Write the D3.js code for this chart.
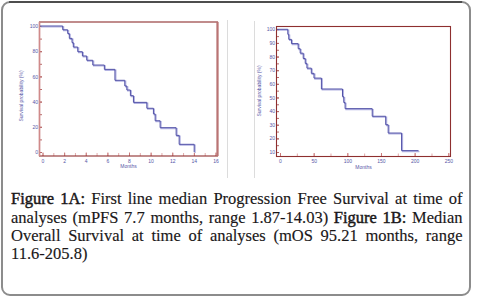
<!DOCTYPE html>
<html>
<head>
<meta charset="utf-8">
<script src="https://cdn.jsdelivr.net/npm/d3@7"></script>
<style>
  body { margin: 0; background: #fff; width: 478px; height: 297px; overflow: hidden; position: relative; }
  svg { position: absolute; left: 0; top: 0; }
  #caption { position: absolute; left: 11px; top: 190.3px; width: 451.5px;
    font-family: "Liberation Serif", "Times New Roman", serif; font-size: 16.5px;
    line-height: 18.3px; color: #1a1718; -webkit-text-stroke: 0.15px #1a1718; }
  #caption .j { text-align: justify; text-align-last: justify; }
  #caption b { font-weight: normal; -webkit-text-stroke: 0.45px #1a1718; }
  .tick text { font-family: "Liberation Sans", Arial, sans-serif; font-size: 5px; fill: #5656a6; }
  .axis-title { font-family: "Liberation Sans", Arial, sans-serif; font-size: 5px; fill: #5656a6; }
</style>
</head>
<body>
<svg id="chart" width="478" height="297"></svg>
<div id="caption"></div>
<script>
// Figure 1A: progression free survival (months, % surviving after each step)
const pfsMonths   = [0, 1.87, 2.33, 2.48, 2.73, 2.85, 3.26, 3.69, 4.09, 4.65, 5.72, 6.7, 7.61, 7.8, 8.13, 8.41, 9.65, 10.26, 10.42, 10.88, 12.36, 12.64, 14.03];
const pfsSurvival = [100, 97, 94, 90.2, 86.8, 83.3, 79.6, 76.2, 72.8, 69, 65.6, 56.9, 52.4, 49.2, 44.7, 39.4, 34.7, 30.2, 24.8, 19.3, 13.2, 6.1, 0];
const pfsXTicks = [0, 2, 4, 6, 8, 10, 12, 14, 16];
const pfsYTicks = [0, 20, 40, 60, 80, 100];

// Figure 1B: overall survival
const osMonths   = [0, 11.6, 13, 17, 27, 30, 34.5, 37.5, 40, 46.5, 50.5, 61.5, 92.8, 94.7, 96.7, 137, 157, 160.7, 180.6];
const osSurvival = [100, 96.3, 92.6, 89.5, 85.8, 82.5, 78.6, 75, 71.5, 67.7, 64.2, 56.2, 50.6, 46.3, 41.8, 36.2, 30, 23.9, 11];
const osLastFollowUp = 205.8;
const osXTicks = [0, 50, 100, 150, 200, 250];
const osYTicks = [10, 20, 30, 40, 50, 60, 70, 80, 90, 100];

const svg = d3.select("#chart");

// page card
svg.append("rect")
  .attr("x", 2).attr("y", 2).attr("width", 468).attr("height", 293).attr("rx", 8)
  .attr("fill", "none").attr("stroke", "#8c8c8c").attr("stroke-width", 2);
svg.append("line")
  .attr("x1", 9).attr("x2", 462).attr("y1", 2).attr("y2", 2)
  .attr("stroke", "#111").attr("stroke-width", 1.2);

// faint image panel edges
svg.append("line").attr("x1", 227.5).attr("x2", 227.5).attr("y1", 20).attr("y2", 178)
  .attr("stroke", "#dcdcdc").attr("stroke-width", 1);
svg.append("line").attr("x1", 254.5).attr("x2", 254.5).attr("y1", 21).attr("y2", 178)
  .attr("stroke", "#dcdcdc").attr("stroke-width", 1);

function kmPath(x, y, months, surv, left, lastTime) {
  const pts = [[left, y(surv[0])]];
  for (let i = 1; i < months.length; i++) {
    pts.push([x(months[i]), y(surv[i - 1])]);
    pts.push([x(months[i]), y(surv[i])]);
  }
  if (lastTime != null) pts.push([x(lastTime), y(surv[surv.length - 1])]);
  return d3.line()(pts);
}

function drawPanel(cfg) {
  const { frame, x, y } = cfg;
  const g = svg.append("g");

  // minor y ticks (inside)
  g.append("g").attr("transform", `translate(${frame.left},0)`)
    .call(d3.axisLeft(y).tickValues(cfg.yMinor).tickFormat("").tickSize(-2.5))
    .call(a => a.select(".domain").remove())
    .call(a => a.selectAll("line").attr("stroke", "#b86a6a"));
  // labelled y ticks
  g.append("g").attr("transform", `translate(${frame.left},0)`)
    .call(d3.axisLeft(y).tickValues(cfg.yTicks).tickSize(-2.5).tickPadding(1.5))
    .call(a => a.select(".domain").remove())
    .call(a => a.selectAll("line").attr("stroke", "#b86a6a"));

  // x ticks (inside, upward)
  g.append("g").attr("transform", `translate(0,${frame.bottom})`)
    .call(d3.axisBottom(x).tickValues(cfg.xMinor).tickFormat("").tickSize(-3))
    .call(a => a.select(".domain").remove())
    .call(a => a.selectAll("line").attr("stroke", "#e0a8a8"));
  g.append("g").attr("transform", `translate(0,${frame.bottom})`)
    .call(d3.axisBottom(x).tickValues(cfg.xTicks).tickSize(-3.5).tickPadding(3))
    .call(a => a.select(".domain").remove())
    .call(a => a.selectAll("line").attr("stroke", "#c97a7a"));

  // frame
  g.append("rect")
    .attr("x", frame.left).attr("y", frame.top)
    .attr("width", frame.right - frame.left).attr("height", frame.bottom - frame.top)
    .attr("fill", "none").attr("stroke", "#8e2f2f").attr("stroke-width", 1.1);
  if (cfg.pinkSides) {
    g.append("line").attr("x1", frame.left).attr("x2", frame.left)
      .attr("y1", frame.top).attr("y2", frame.bottom)
      .attr("stroke", "#d08a8a").attr("stroke-width", 1.6);
    g.append("line").attr("x1", frame.right).attr("x2", frame.right)
      .attr("y1", frame.top).attr("y2", frame.bottom)
      .attr("stroke", "#b97474").attr("stroke-width", 2.2);
  }

  // survival curve: light halo + dark line
  const d = kmPath(x, y, cfg.months, cfg.surv, frame.left + 0.5, cfg.lastTime);
  g.append("path").attr("d", d).attr("fill", "none")
    .attr("stroke", "#b3b3e2").attr("stroke-width", 1.3)
    .attr("transform", "translate(0.9,0.9)");
  g.append("path").attr("d", d).attr("fill", "none")
    .attr("stroke", "#4f4fa6").attr("stroke-width", 1);

  // axis titles
  g.append("text").attr("class", "axis-title")
    .attr("x", (frame.left + frame.right) / 2).attr("y", frame.bottom + 12)
    .attr("text-anchor", "middle").text("Months");
  g.append("text").attr("class", "axis-title")
    .attr("transform", `translate(${cfg.yTitleX},${cfg.yTitleY}) rotate(-90)`)
    .attr("text-anchor", "middle").text("Survival probability (%)");
}

const frameA = { left: 39.5, right: 217.5, top: 22, bottom: 156 };
drawPanel({
  frame: frameA,
  x: d3.scaleLinear().domain([0, 16]).range([42.5, 215.5]),
  y: d3.scaleLinear().domain([0, 100]).range([152, 26]),
  months: pfsMonths, surv: pfsSurvival, lastTime: null,
  xTicks: pfsXTicks, xMinor: d3.range(0, 17, 1),
  yTicks: pfsYTicks, yMinor: d3.range(0, 101, 10),
  yTitleX: 23, yTitleY: 96, pinkSides: true
});

const frameB = { left: 276.5, right: 450.5, top: 26.5, bottom: 156.5 };
drawPanel({
  frame: frameB,
  x: d3.scaleLinear().domain([0, 250]).range([280, 448.3]),
  y: d3.scaleLinear().domain([10, 100]).range([152, 29.3]),
  months: osMonths, surv: osSurvival, lastTime: osLastFollowUp,
  xTicks: osXTicks, xMinor: d3.range(0, 251, 25),
  yTicks: osYTicks, yMinor: d3.range(10, 101, 5),
  yTitleX: 261, yTitleY: 91, pinkSides: false
});

// caption
const captionLines = [
  ["<b>Figure 1A:</b> First line median Progression Free Survival at time of", true],
  ["analyses (mPFS 7.7 months, range 1.87-14.03) <b>Figure 1B:</b> Median", true],
  ["Overall Survival at time of analyses (mOS 95.21 months, range", true],
  ["11.6-205.8)", false]
];
d3.select("#caption").selectAll("div").data(captionLines).join("div")
  .attr("class", d => d[1] ? "j" : null)
  .html(d => d[0]);
</script>
</body>
</html>
